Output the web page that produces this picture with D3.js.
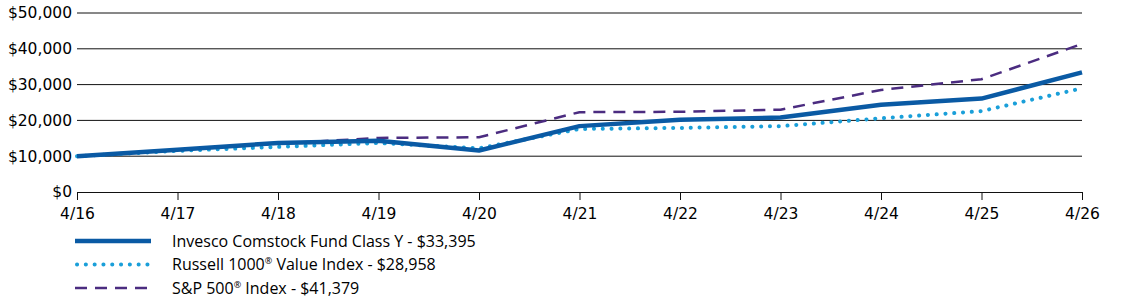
<!DOCTYPE html>
<html>
<head>
<meta charset="utf-8">
<script src="https://cdn.jsdelivr.net/npm/d3@7"></script>
<style>
  body { margin: 0; background: #fff; }
  svg { display: block; }
</style>
</head>
<body>
<div id="chart"></div>
<script>
// data
const years = ["4/16", "4/17", "4/18", "4/19", "4/20", "4/21", "4/22", "4/23", "4/24", "4/25", "4/26"];
const invesco = [10000, 11800, 13700, 14300, 11600, 18400, 20200, 20800, 24400, 26100, 33395];
const russell = [10000, 11500, 12600, 13700, 12200, 17600, 17900, 18400, 20600, 22600, 28958];
const sp500 = [10000, 11800, 13500, 15100, 15300, 22300, 22400, 23000, 28500, 31500, 41379];
const yTicks = [0, 10000, 20000, 30000, 40000, 50000];
// legend labels split so the ® mark can be raised
const seriesNames = [
    ["Invesco Comstock Fund Class Y - $33,395"],
    ["Russell 1000", "\u00AE", " Value Index - $28,958"],
    ["S&P 500", "\u00AE", " Index - $41,379"]
];

const W = 1123, H = 304;
const margin = { top: 13, left: 77 };
const plotW = 1082 - margin.left;
const plotH = 192 - margin.top;

const svg = d3.select("#chart").append("svg")
    .attr("width", W)
    .attr("height", H);

const g = svg.append("g")
    .attr("transform", `translate(${margin.left},${margin.top})`);

const x = d3.scalePoint()
    .domain(years)
    .range([0, plotW]);

const y = d3.scaleLinear()
    .domain([0, 50000])
    .range([plotH, 0]);

const tickFont = "'DejaVu Sans', Verdana, sans-serif";

// gridlines
g.selectAll(".grid")
    .data(yTicks.filter(d => d > 0))
    .enter()
    .append("line")
    .attr("class", "grid")
    .attr("x1", 0)
    .attr("x2", plotW)
    .attr("y1", d => y(d))
    .attr("y2", d => y(d))
    .attr("stroke", "#111")
    .attr("stroke-width", 1);

// y labels
g.append("g")
    .call(d3.axisLeft(y).tickValues(yTicks).tickSize(0).tickPadding(5).tickFormat(d => "$" + d3.format(",")(d)))
    .call(a => a.select(".domain").remove())
    .selectAll("text")
    .attr("fill", "#000")
    .style("font-family", tickFont)
    .style("font-size", "15.5px");

// x axis
const xAxis = g.append("g")
    .attr("transform", `translate(0,${plotH})`)
    .call(d3.axisBottom(x).tickSize(8).tickPadding(8).tickSizeOuter(0));
xAxis.select(".domain").attr("stroke", "#111");
xAxis.selectAll(".tick line").attr("stroke", "#111");
xAxis.selectAll("text")
    .attr("fill", "#000")
    .style("font-family", tickFont)
    .style("font-size", "15.5px");

// series
const styles = [
    { data: sp500, color: "#4b2c80", width: 2.5, dash: "12,8", cap: "butt" },
    { data: russell, color: "#1a9fd9", width: 4, dash: "0.1,8.7", cap: "round" },
    { data: invesco, color: "#0a5aa4", width: 4.5, dash: null, cap: "butt" }
];

const line = d3.line()
    .x((d, i) => x(years[i]))
    .y(d => y(d));

styles.forEach(s => {
    g.append("path")
        .datum(s.data)
        .attr("d", line)
        .attr("fill", "none")
        .attr("stroke", s.color)
        .attr("stroke-width", s.width)
        .attr("stroke-dasharray", s.dash)
        .attr("stroke-linecap", s.cap)
        .attr("stroke-linejoin", "round");
});

// legend
const legendStyles = [styles[2], styles[1], styles[0]];
const legend = svg.append("g");
const rowY = [241, 264.5, 288];
legendStyles.forEach((s, i) => {
    legend.append("line")
        .attr("x1", s.cap === "round" ? 77 : 75)
        .attr("x2", 151)
        .attr("y1", rowY[i])
        .attr("y2", rowY[i])
        .attr("stroke", s.color)
        .attr("stroke-width", s.width)
        .attr("stroke-dasharray", s.dash)
        .attr("stroke-linecap", s.cap);
    const t = legend.append("text")
        .attr("x", 172)
        .attr("y", rowY[i] + 5.5)
        .attr("fill", "#000")
        .style("font-family", "'Open Sans', sans-serif")
        .style("font-size", "16px");
    seriesNames[i].forEach((part, j) => {
        const sp = t.append("tspan").text(part);
        if (j === 1) {
            sp.attr("dy", -6).style("font-size", "9px");
        } else if (j === 2) {
            sp.attr("dy", 6);
        }
    });
});
</script>
</body>
</html>
